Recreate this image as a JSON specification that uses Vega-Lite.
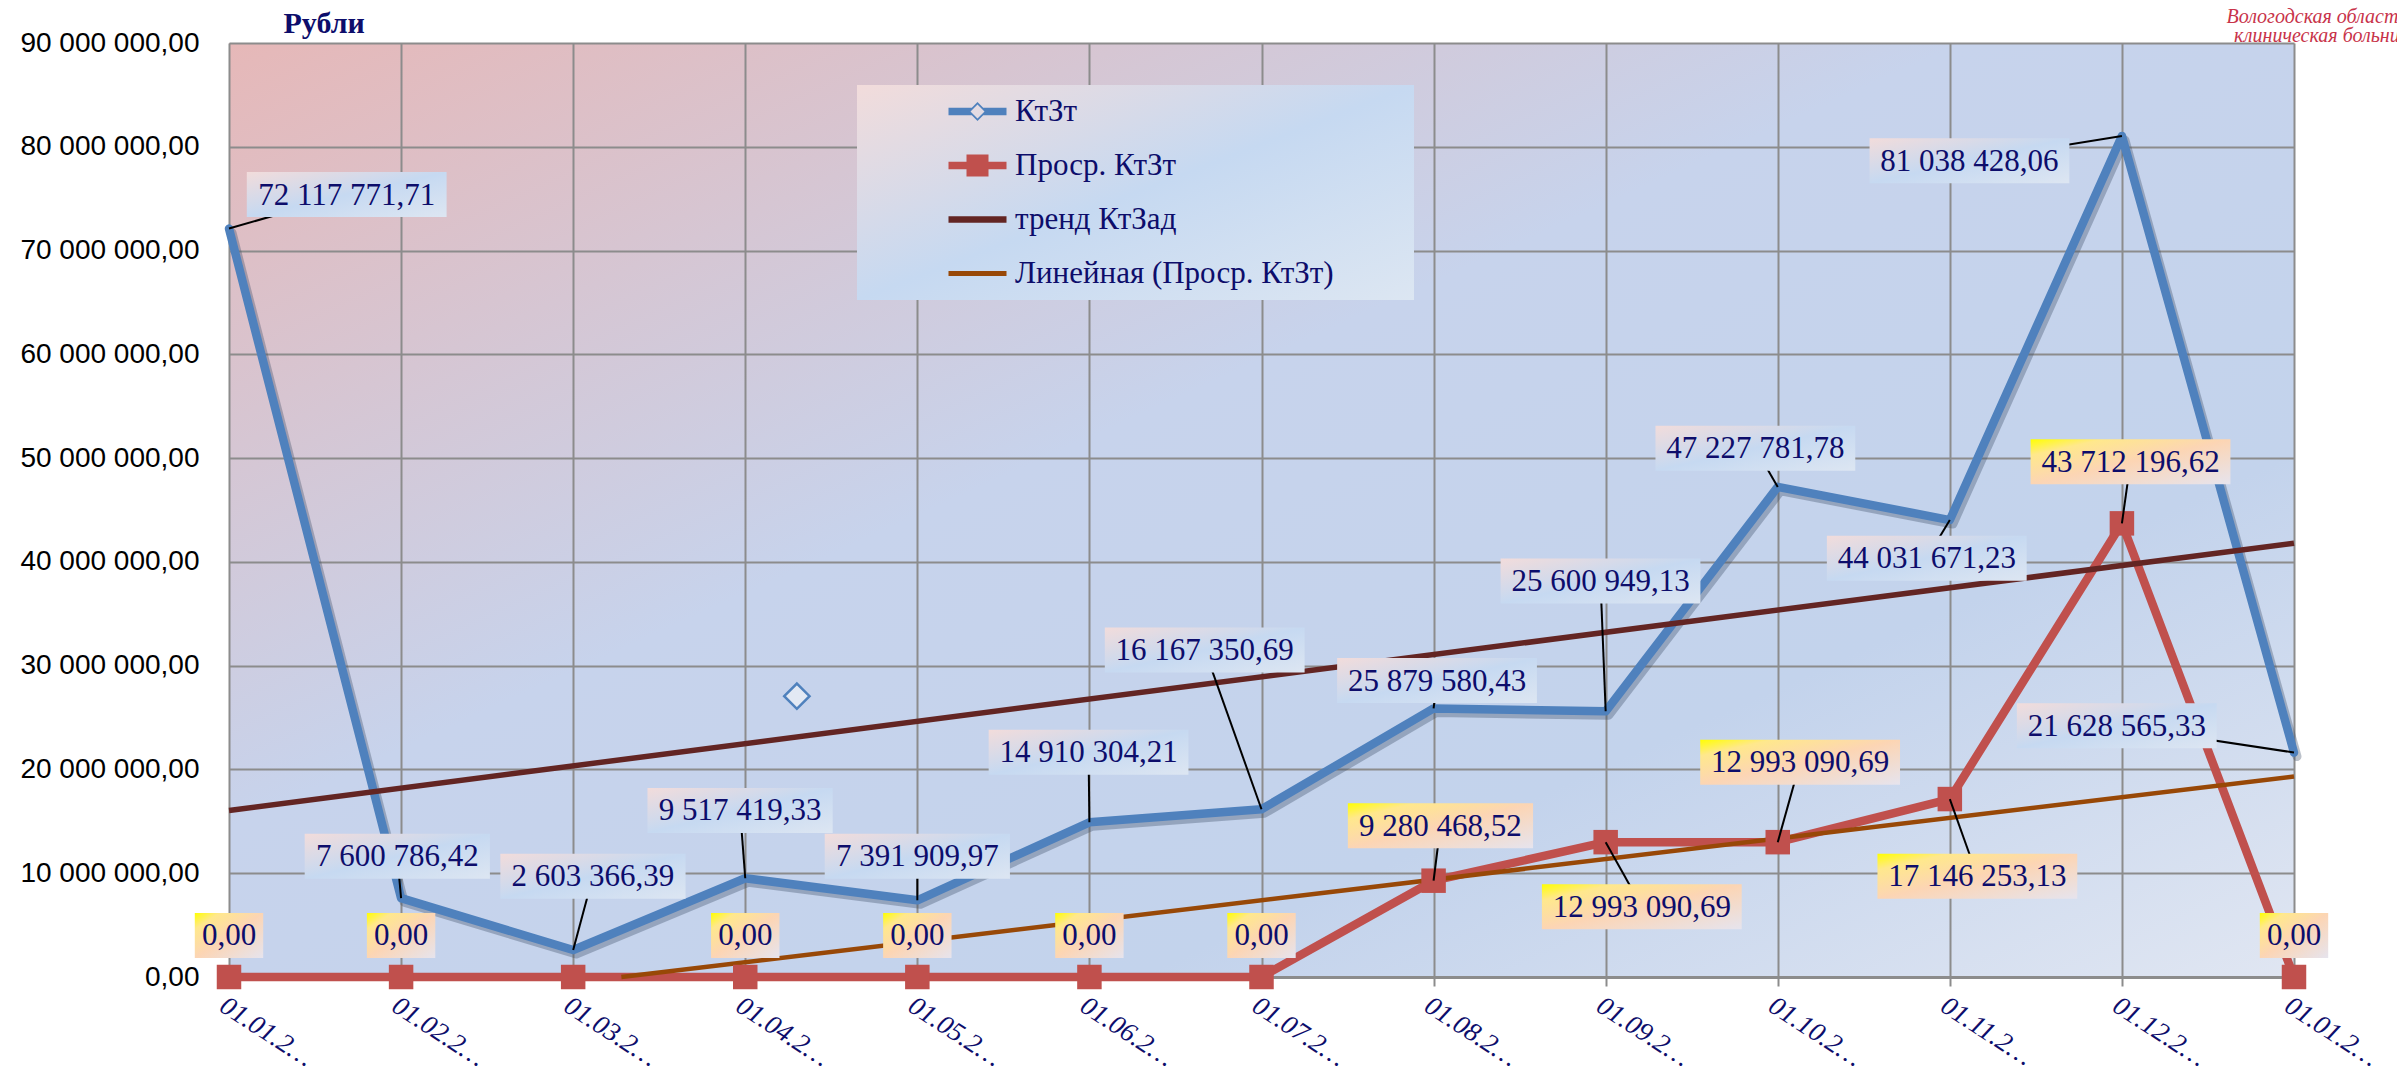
{
  "$schema": "https://vega.github.io/schema/vega-lite/v6.json",
  "width": 2065,
  "height": 934,
  "autosize": "none",
  "padding": {"left": 229, "top": 43, "right": 103, "bottom": 101},
  "background": "white",
  "config": {
    "locale": {"number": {"decimal": ",", "thousands": " ", "grouping": [3], "currency": ["", ""]}},
    "view": {
      "stroke": null,
      "fill": {"gradient": "linear", "x1": 0, "y1": 0, "x2": 1, "y2": 1,
        "stops": [
          {"offset": 0, "color": "#e6b8b8"},
          {"offset": 0.42, "color": "#c7d3ec"},
          {"offset": 0.72, "color": "#c3d3ec"},
          {"offset": 1, "color": "#e0e6f2"}
        ]}
    },
    "axis": {"gridColor": "#8c8c8c", "gridWidth": 2, "gridOpacity": 1}
  },
  "title": {
    "text": ["Вологодская областная", "клиническая больница"],
    "anchor": "start",
    "frame": "group",
    "align": "center",
    "baseline": "bottom",
    "dx": 2098,
    "dy": 58,
    "offset": 0,
    "font": "Liberation Serif",
    "fontStyle": "italic",
    "fontWeight": "normal",
    "fontSize": 20,
    "lineHeight": 19,
    "color": "#c8334a"
  },
  "datasets": {
    "main": [
      {"i": 0, "s": "КтЗт", "v": 72117771.71, "lx": 0.684, "ly": 75400000},
      {"i": 1, "s": "КтЗт", "v": 7600786.42, "lx": 0.978, "ly": 11630000},
      {"i": 2, "s": "КтЗт", "v": 2603366.39, "lx": 2.115, "ly": 9710000},
      {"i": 3, "s": "КтЗт", "v": 9517419.33, "lx": 2.97, "ly": 16050000},
      {"i": 4, "s": "КтЗт", "v": 7391909.97, "lx": 4.0, "ly": 11630000},
      {"i": 5, "s": "КтЗт", "v": 14910304.21, "lx": 4.995, "ly": 21650000},
      {"i": 6, "s": "КтЗт", "v": 16167350.69, "lx": 5.67, "ly": 31520000},
      {"i": 7, "s": "КтЗт", "v": 25879580.43, "lx": 7.02, "ly": 28570000},
      {"i": 8, "s": "КтЗт", "v": 25600949.13, "lx": 7.97, "ly": 38150000},
      {"i": 9, "s": "КтЗт", "v": 47227781.78, "lx": 8.87, "ly": 50960000},
      {"i": 10, "s": "КтЗт", "v": 44031671.23, "lx": 9.866, "ly": 40360000},
      {"i": 11, "s": "КтЗт", "v": 81038428.06, "lx": 10.114, "ly": 78660000},
      {"i": 12, "s": "КтЗт", "v": 21628565.33, "lx": 10.97, "ly": 24220000},
      {"i": 0, "s": "Проср. КтЗт", "v": 0, "lx": 0, "ly": 4000000},
      {"i": 1, "s": "Проср. КтЗт", "v": 0, "lx": 1, "ly": 4000000},
      {"i": 2, "s": "Проср. КтЗт", "v": 0},
      {"i": 3, "s": "Проср. КтЗт", "v": 0, "lx": 3, "ly": 4000000},
      {"i": 4, "s": "Проср. КтЗт", "v": 0, "lx": 4, "ly": 4000000},
      {"i": 5, "s": "Проср. КтЗт", "v": 0, "lx": 5, "ly": 4000000},
      {"i": 6, "s": "Проср. КтЗт", "v": 0, "lx": 6, "ly": 4000000},
      {"i": 7, "s": "Проср. КтЗт", "v": 9280468.52, "lx": 7.04, "ly": 14580000},
      {"i": 8, "s": "Проср. КтЗт", "v": 12993090.69, "lx": 8.21, "ly": 6770000},
      {"i": 9, "s": "Проср. КтЗт", "v": 12993090.69, "lx": 9.13, "ly": 20700000},
      {"i": 10, "s": "Проср. КтЗт", "v": 17146253.13, "lx": 10.16, "ly": 9710000},
      {"i": 11, "s": "Проср. КтЗт", "v": 43712196.62, "lx": 11.05, "ly": 49640000},
      {"i": 12, "s": "Проср. КтЗт", "v": 0, "lx": 12, "ly": 4000000},
      {"i": 0, "s": "тренд КтЗад", "v": 16050000},
      {"i": 12, "s": "тренд КтЗад", "v": 41800000},
      {"i": 2.28, "s": "Линейная (Проср. КтЗт)", "v": 0},
      {"i": 12, "s": "Линейная (Проср. КтЗт)", "v": 19310000}
    ],
    "stray": [
      {"i": 3.3, "v": 27060000}
    ]
  },
  "layer": [
    {
      "data": {"name": "main"},
      "transform": [{"filter": "datum.s === 'КтЗт'"}],
      "mark": {"type": "line", "color": "#3c4e66", "opacity": 0.35, "strokeWidth": 9, "strokeCap": "round", "strokeJoin": "round", "xOffset": 3, "yOffset": 4},
      "encoding": {
        "x": {"field": "i", "type": "quantitative"},
        "y": {"field": "v", "type": "quantitative"}
      }
    },
    {
      "data": {"name": "main"},
      "transform": [{"filter": "datum.s === 'КтЗт' || datum.s === 'Проср. КтЗт'"}],
      "mark": {"type": "line", "strokeWidth": 8.5, "strokeCap": "round", "strokeJoin": "round"},
      "encoding": {
        "x": {"field": "i", "type": "quantitative",
          "scale": {"domain": [0, 12], "nice": false, "zero": false},
          "axis": {
            "values": [0, 1, 2, 3, 4, 5, 6, 7, 8, 9, 10, 11, 12],
            "title": null,
            "labelExpr": "'01.' + (datum.value % 12 < 9 ? '0' : '') + (datum.value % 12 + 1) + '.2…'",
            "labelAngle": 33, "labelAlign": "left", "labelBaseline": "top",
            "labelFont": "Liberation Serif", "labelFontStyle": "italic", "labelFontSize": 27,
            "labelColor": "#0d0d6b", "labelPadding": 6, "labelFlush": false, "labelOverlap": false, "labelBound": false,
            "domainColor": "#8c8c8c", "domainWidth": 3,
            "tickColor": "#8c8c8c", "tickWidth": 2, "tickSize": 9,
            "grid": true
          }},
        "y": {"field": "v", "type": "quantitative",
          "scale": {"domain": [0, 90000000], "nice": false},
          "axis": {
            "values": [0, 10000000, 20000000, 30000000, 40000000, 50000000, 60000000, 70000000, 80000000, 90000000],
            "format": ",.2f",
            "title": "Рубли", "titleAngle": 0, "titleAlign": "left", "titleBaseline": "alphabetic",
            "titleX": 54, "titleY": -11,
            "titleFont": "Liberation Serif", "titleFontSize": 30, "titleFontWeight": "bold", "titleColor": "#0d0d6b",
            "labelFont": "Liberation Sans", "labelFontSize": 28, "labelColor": "#000000",
            "ticks": false, "domain": false, "labelPadding": 30, "grid": true
          }},
        "color": {"field": "s", "type": "nominal",
          "scale": {"domain": ["КтЗт", "Проср. КтЗт", "тренд КтЗад", "Линейная (Проср. КтЗт)"],
                    "range": ["#4f81bd", "#c0504d", "#632523", "#984807"]},
          "legend": {
            "orient": "none", "legendX": 628, "legendY": 42, "title": null,
            "padding": 11, "symbolSize": 400, "symbolStrokeWidth": 0, "symbolOffset": 94, "labelOffset": 22,
            "labelFont": "Liberation Serif", "labelFontSize": 31, "labelColor": "#0d0d6b",
            "rowPadding": 22, "labelLimit": 700,
            "labelExpr": "datum.label + '\u2800\u2800\u2800'",
            "encode": {
              "legend": {"update": {"fill": {"value": {"gradient": "linear", "x1": 0, "y1": 0, "x2": 1, "y2": 1,
                "stops": [{"offset": 0, "color": "#f2dcdb"}, {"offset": 0.5, "color": "#c6d9f1"}, {"offset": 1, "color": "#dce6f2"}]}}}},
              "symbols": {"update": {
                "shape": {"signal": "datum.value === 'КтЗт' ? 'M-2.9,-0.38H-0.57L0,-0.95L0,-0.7L-0.7,0L0,0.7L0.7,0L0,-0.7L0,-0.95L0.57,-0.38H2.9V0.38H0.57L0,0.95L-0.57,0.38H-2.9Z' : datum.value === 'Проср. КтЗт' ? 'M-2.9,-0.38H-1.1V-1.1H1.1V-0.38H2.9V0.38H1.1V1.1H-1.1V0.38H-2.9Z' : datum.value === 'тренд КтЗад' ? 'M-2.9,-0.32H2.9V0.32H-2.9Z' : 'M-2.9,-0.24H2.9V0.24H-2.9Z'"},
                "fill": {"scale": "color", "field": "value"},
                "stroke": {"value": "transparent"},
                "strokeWidth": {"value": 0},
                "opacity": {"value": 1}
              }}
            }
          }}
      }
    },
    {
      "data": {"name": "main"},
      "transform": [{"filter": "datum.s === 'тренд КтЗад'"}],
      "mark": {"type": "line", "strokeWidth": 5.5, "strokeCap": "butt"},
      "encoding": {
        "x": {"field": "i", "type": "quantitative"},
        "y": {"field": "v", "type": "quantitative"},
        "color": {"field": "s", "type": "nominal", "legend": null}
      }
    },
    {
      "data": {"name": "main"},
      "transform": [{"filter": "datum.s === 'Линейная (Проср. КтЗт)'"}],
      "mark": {"type": "line", "strokeWidth": 4.5, "strokeCap": "butt"},
      "encoding": {
        "x": {"field": "i", "type": "quantitative"},
        "y": {"field": "v", "type": "quantitative"},
        "color": {"field": "s", "type": "nominal", "legend": null}
      }
    },
    {
      "data": {"name": "main"},
      "transform": [{"filter": "datum.s === 'Проср. КтЗт'"}],
      "mark": {"type": "point", "shape": "square", "filled": true, "color": "#c0504d", "opacity": 1, "size": 600},
      "encoding": {
        "x": {"field": "i", "type": "quantitative"},
        "y": {"field": "v", "type": "quantitative"}
      }
    },
    {
      "data": {"name": "stray"},
      "mark": {"type": "point", "shape": "diamond", "filled": true, "fill": "#e3e9f4", "stroke": "#4f81bd", "strokeWidth": 2.5, "opacity": 1, "size": 640},
      "encoding": {
        "x": {"field": "i", "type": "quantitative"},
        "y": {"field": "v", "type": "quantitative"}
      }
    },
    {
      "data": {"name": "main"},
      "transform": [{"filter": "isValid(datum.lx) && datum.v > 0"}],
      "mark": {"type": "rule", "color": "#000000", "strokeWidth": 2},
      "encoding": {
        "x": {"field": "i", "type": "quantitative"},
        "y": {"field": "v", "type": "quantitative"},
        "x2": {"field": "lx"},
        "y2": {"field": "ly"}
      }
    },
    {
      "data": {"name": "main"},
      "transform": [{"filter": "isValid(datum.lx) && datum.s === 'КтЗт'"}],
      "mark": {"type": "rect", "height": 45, "width": {"expr": "length(format(datum.v, ',.2f')) * 14.6 + 10"},
        "color": {"gradient": "linear", "x1": 0, "y1": 0, "x2": 1, "y2": 1,
          "stops": [{"offset": 0, "color": "#f2dcdb"}, {"offset": 0.5, "color": "#c6d9f1"}, {"offset": 1, "color": "#dde6f2"}]}},
      "encoding": {
        "x": {"field": "lx", "type": "quantitative"},
        "y": {"field": "ly", "type": "quantitative"}
      }
    },
    {
      "data": {"name": "main"},
      "transform": [{"filter": "isValid(datum.lx) && datum.s === 'Проср. КтЗт'"}],
      "mark": {"type": "rect", "height": 45, "width": {"expr": "length(format(datum.v, ',.2f')) * 14.6 + 10"},
        "color": {"gradient": "linear", "x1": 0, "y1": 0, "x2": 1, "y2": 1,
          "stops": [{"offset": 0, "color": "#ffff00"}, {"offset": 0.18, "color": "#ffe88c"}, {"offset": 0.5, "color": "#fcd5b4"}, {"offset": 1, "color": "#e6e4ee"}]}},
      "encoding": {
        "x": {"field": "lx", "type": "quantitative"},
        "y": {"field": "ly", "type": "quantitative"}
      }
    },
    {
      "data": {"name": "main"},
      "transform": [{"filter": "isValid(datum.lx)"}],
      "mark": {"type": "text", "font": "Liberation Serif", "fontSize": 31, "color": "#0d0d6b", "align": "center", "baseline": "middle", "dy": 1},
      "encoding": {
        "x": {"field": "lx", "type": "quantitative"},
        "y": {"field": "ly", "type": "quantitative"},
        "text": {"field": "v", "type": "quantitative", "format": ",.2f"}
      }
    }
  ]
}
